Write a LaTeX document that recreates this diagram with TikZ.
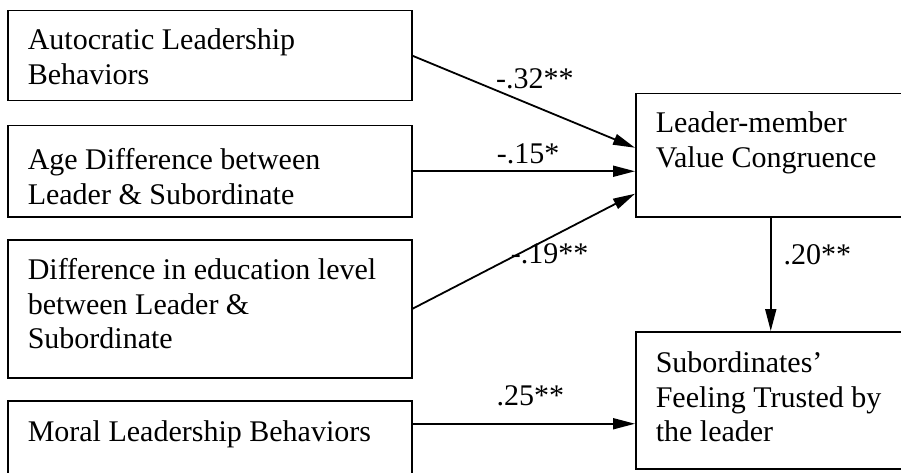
\documentclass[tikz,border=0pt]{standalone}
\usepackage{fontspec}
\setmainfont{Liberation Serif}
\usetikzlibrary{arrows.meta}

\tikzset{varnode/.style={draw, line width=1.5pt, anchor=north west, align=flush left, inner xsep=20pt, inner ysep=0pt}}
\tikzset{coefnode/.style={inner sep=0pt, anchor=base}}

\begin{document}
\begin{tikzpicture}[x=1pt, y=-1pt, font=\fontsize{30}{34.5}\selectfont, >={Triangle[length=22pt, width=11pt]}]
		\useasboundingbox (0,0) rectangle (901,473);
		\clip (0,0) rectangle (901,473);

		%predictors
		\node[varnode, text width=364pt, text height=39pt, text depth=51pt] (auto) at (7,10) {Autocratic Leadership\\ Behaviors};
		\node[varnode, text width=364pt, text height=44pt, text depth=47pt] (age) at (7,125) {Age Difference between\\ Leader \& Subordinate};
		\node[varnode, text width=364pt, text height=40pt, text depth=98pt] (edu) at (7,239) {Difference in education level\\ between Leader \&\\ Subordinate};
		\node[varnode, text width=364pt, text height=41pt, text depth=60pt] (moral) at (7,400) {Moral Leadership Behaviors};

		%mediator and outcome
		\node[varnode, text width=260pt, text height=39pt, text depth=84pt] (lmvc) at (635,93) {Leader-member\\ Value Congruence};
		\node[varnode, text width=260pt, text height=41pt, text depth=96pt] (trust) at (635,331) {Subordinates'\\ Feeling Trusted by\\ the leader};

		%path coefficients
		\path[->, line width=1.8pt] (auto.east) edge node[coefnode, pos=0.55, yshift=17.5pt] {-.32**} ([yshift=7.5pt]lmvc.west);
		\path[->, line width=1.8pt] (age.east) edge node[coefnode, pos=0.52, yshift=7.5pt] {-.15*} (lmvc.west |- age.east);
		\path[->, line width=1.8pt] (edu.east) edge node[coefnode, pos=0.616, yshift=-26pt] {-.19**} ([yshift=-38.5pt]lmvc.west);
		\path[->, line width=1.8pt] ([xshift=-15pt]lmvc.south) edge node[coefnode, anchor=base west, pos=0.41, xshift=12pt] {.20**} ([xshift=-15pt]trust.north);
		\path[->, line width=1.8pt] ([yshift=27.5pt]moral.east) edge node[coefnode, pos=0.53, yshift=18pt] {.25**} ([yshift=-23.5pt]trust.west);

	\end{tikzpicture}
\end{document}
